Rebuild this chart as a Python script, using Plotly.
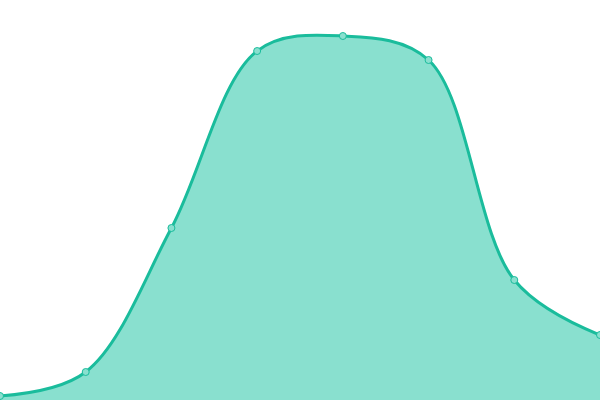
import plotly.graph_objects as go

# index of each point along the curve, and its height
steps = [0, 1, 2, 3, 4, 5, 6, 7]
values = [4, 28, 172, 349, 364, 340, 120, 65]

fig = go.Figure()
fig.add_trace(go.Scatter(
    x=steps, y=values,
    mode='lines+markers',
    line=dict(color='#1abc9c', width=3, shape='spline', smoothing=1),
    marker=dict(size=7, color='#89e0cf', line=dict(color='#1abc9c', width=1)),
    fill='tozeroy', fillcolor='#89e0cf',
))

fig.update_layout(
    width=600, height=400,
    margin=dict(l=0, r=0, t=0, b=0),
    paper_bgcolor='white', plot_bgcolor='white',
    showlegend=False,
    xaxis=dict(visible=False, range=[0, 7]),
    yaxis=dict(visible=False, range=[0, 400]),
)

# drop the page's default body margin so the chart sits at the window corner
fig.write_html("out.html", config={'displayModeBar': False},
               post_script="document.body.style.margin='0';")
